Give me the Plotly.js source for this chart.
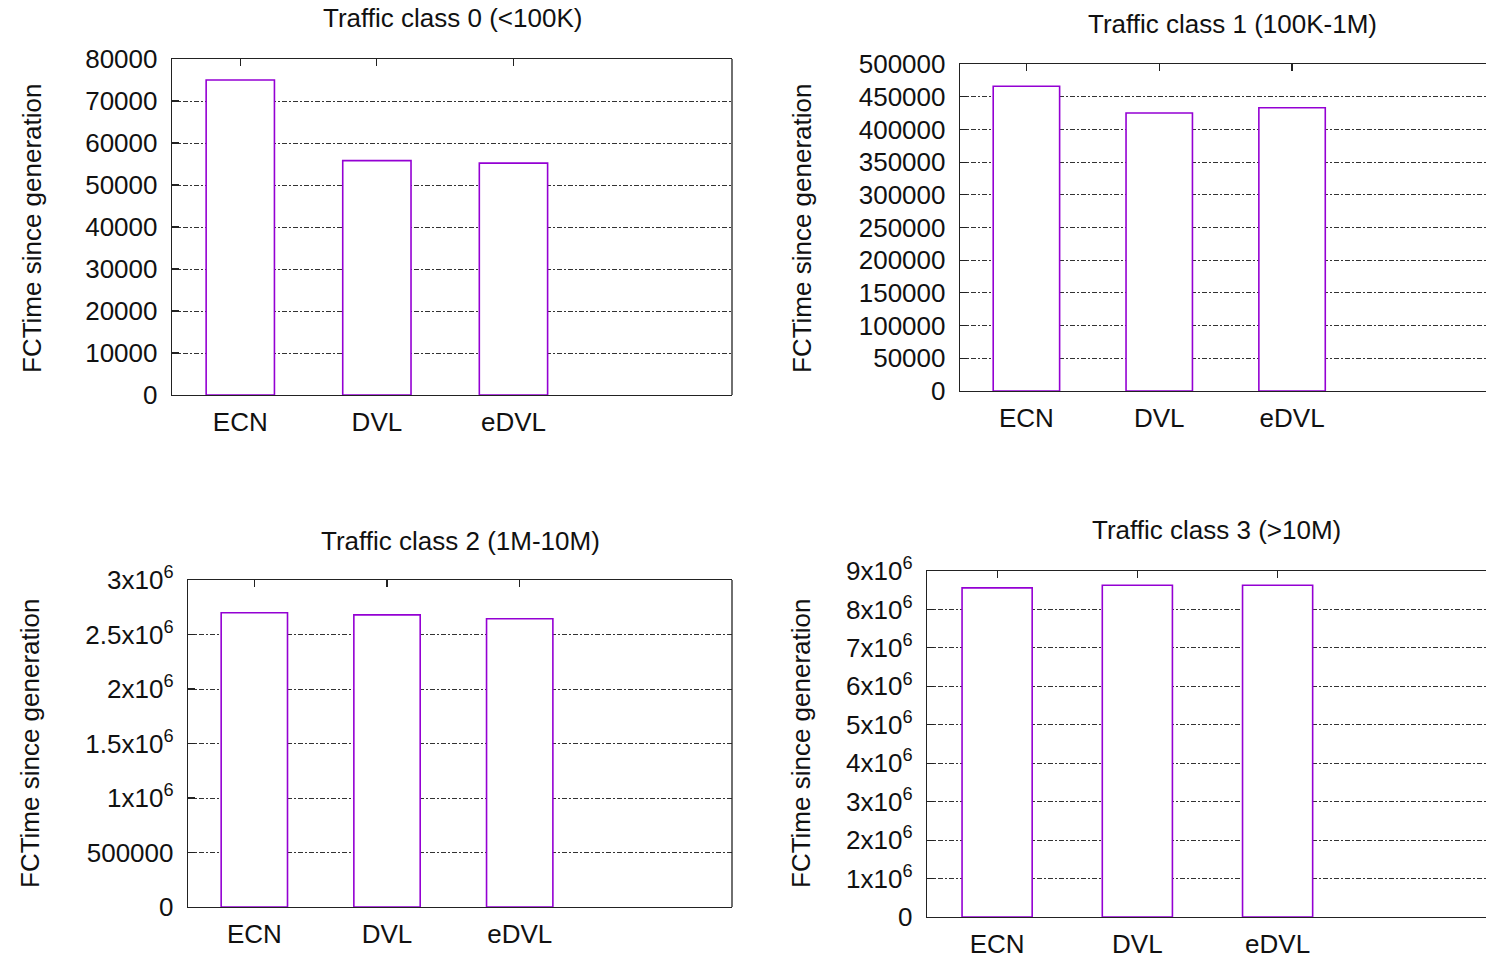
<!DOCTYPE html>
<html>
<head>
<meta charset="utf-8">
<script src="https://cdn.plot.ly/plotly-3.0.1.min.js"></script>
<style>
  html, body { margin: 0; padding: 0; background: #fff; }
  #chart { width: 1486px; height: 957px; }
</style>
</head>
<body>
<div id="chart"></div>
<script>
// ---- data ----
const categories = ["ECN", "DVL", "eDVL"];
const class0Values = [75000, 55800, 55200];
const class1Values = [466000, 425000, 433000];
const class2Values = [2700000, 2680000, 2645000];
const class3Values = [8560000, 8630000, 8630000];

const panelTitles = ["Traffic class 0 (&lt;100K)", "Traffic class 1 (100K-1M)",
                     "Traffic class 2 (1M-10M)", "Traffic class 3 (&gt;10M)"];
const yAxisTitle = "FCTime since generation";

const class2TickVals = [0, 500000, 1000000, 1500000, 2000000, 2500000, 3000000];
const class2TickText = ["0", "500000", "1x10<sup>6</sup>", "1.5x10<sup>6</sup>", "2x10<sup>6</sup>",
                        "2.5x10<sup>6</sup>", "3x10<sup>6</sup>"];
const class3TickVals = [0, 1e6, 2e6, 3e6, 4e6, 5e6, 6e6, 7e6, 8e6, 9e6];
const class3TickText = ["0", "1x10<sup>6</sup>", "2x10<sup>6</sup>", "3x10<sup>6</sup>", "4x10<sup>6</sup>",
                        "5x10<sup>6</sup>", "6x10<sup>6</sup>", "7x10<sup>6</sup>", "8x10<sup>6</sup>", "9x10<sup>6</sup>"];

// ---- style ----
const W = 1486, H = 957;
const FONT = "Liberation Sans, Arial, Helvetica, sans-serif";
const FS = 26;
const BAR_LINE = "#9400d3";
const AXIS_COL = "#222";

function px(x) { return x / W; }
function py(y) { return 1 - y / H; }

const series = [class0Values, class1Values, class2Values, class3Values];
const traces = series.map((vals, i) => ({
  type: "bar",
  x: categories,
  y: vals,
  xaxis: i === 0 ? "x" : "x" + (i + 1),
  yaxis: i === 0 ? "y" : "y" + (i + 1),
  width: 0.5,
  marker: { color: "#ffffff", line: { color: BAR_LINE, width: 1.6 } },
  hoverinfo: "x+y",
  showlegend: false
}));

// panel geometry (pixels): left, right, top, bottom
const panels = [
  { l: 172, r: 732, t: 59, b: 395, xr: [-0.5, 3.6] },
  { l: 960, r: 1486, t: 64, b: 391, xr: [-0.5, 3.46] },
  { l: 188, r: 732, t: 580, b: 907, xr: [-0.5, 3.6] },
  { l: 927, r: 1486, t: 571, b: 917, xr: [-0.5, 3.486] }
];

function xAxis(p, anchor) {
  return {
    domain: [px(p.l), px(p.r)],
    anchor: anchor,
    range: p.xr,
    showline: true, linecolor: AXIS_COL, linewidth: 1.3,
    mirror: "ticks",
    ticks: "inside", ticklen: 7, tickwidth: 1.2, tickcolor: AXIS_COL,
    showgrid: false, zeroline: false,
    layer: "below traces",
    tickfont: { family: FONT, size: FS, color: "#111" },
    ticklabelstandoff: 3,
    fixedrange: true
  };
}
function yAxis(p, anchor, range, extra) {
  return Object.assign({
    domain: [py(p.b), py(p.t)],
    anchor: anchor,
    range: range,
    showline: true, linecolor: AXIS_COL, linewidth: 1.3,
    ticks: "inside", ticklen: 7, tickwidth: 1.2, tickcolor: AXIS_COL,
    showgrid: true, gridcolor: "#333", gridwidth: 1, griddash: "5px,2px,2px,2px",
    zeroline: false,
    layer: "below traces",
    tickformat: "d",
    exponentformat: "none",
    separatethousands: false,
    tickfont: { family: FONT, size: FS, color: "#111" },
    ticklabelstandoff: 8,
    fixedrange: true
  }, extra || {});
}

const baseText = { xref: "paper", yref: "paper", xanchor: "center", yanchor: "middle",
                   showarrow: false, font: { family: FONT, size: FS, color: "#111" } };

const layout = {
  width: W, height: H,
  margin: { l: 0, r: 0, t: 0, b: 0 },
  paper_bgcolor: "#fff", plot_bgcolor: "rgba(0,0,0,0)",
  font: { family: FONT, size: FS, color: "#111" },
  showlegend: false,
  xaxis: xAxis(panels[0], "y"),
  yaxis: yAxis(panels[0], "x", [0, 80000], { dtick: 10000, tick0: 0 }),
  xaxis2: xAxis(panels[1], "y2"),
  yaxis2: yAxis(panels[1], "x2", [0, 500000], { dtick: 50000, tick0: 0 }),
  xaxis3: xAxis(panels[2], "y3"),
  yaxis3: yAxis(panels[2], "x3", [0, 3000000], { tickmode: "array", tickvals: class2TickVals, ticktext: class2TickText }),
  xaxis4: xAxis(panels[3], "y4"),
  yaxis4: yAxis(panels[3], "x4", [0, 9000000], { tickmode: "array", tickvals: class3TickVals, ticktext: class3TickText }),
  annotations: [
    { text: panelTitles[0], x: px(452), y: py(18) },
    { text: panelTitles[1], x: px(1232), y: py(24) },
    { text: panelTitles[2], x: px(460), y: py(541) },
    { text: panelTitles[3], x: px(1216), y: py(530) },
    { text: yAxisTitle, x: px(32), y: py(228), textangle: -90 },
    { text: yAxisTitle, x: px(802), y: py(228), textangle: -90 },
    { text: yAxisTitle, x: px(30), y: py(743), textangle: -90 },
    { text: yAxisTitle, x: px(801), y: py(743), textangle: -90 }
  ].map(a => Object.assign({}, baseText, a)),
  shapes: [
    { type: "line", xref: "x domain", yref: "y domain", x0: 1, x1: 1, y0: 0, y1: 1,
      line: { color: AXIS_COL, width: 1.3 } },
    { type: "line", xref: "x3 domain", yref: "y3 domain", x0: 1, x1: 1, y0: 0, y1: 1,
      line: { color: AXIS_COL, width: 1.3 } }
  ]
};

Plotly.newPlot("chart", traces, layout, { displayModeBar: false, staticPlot: true });
</script>
</body>
</html>
